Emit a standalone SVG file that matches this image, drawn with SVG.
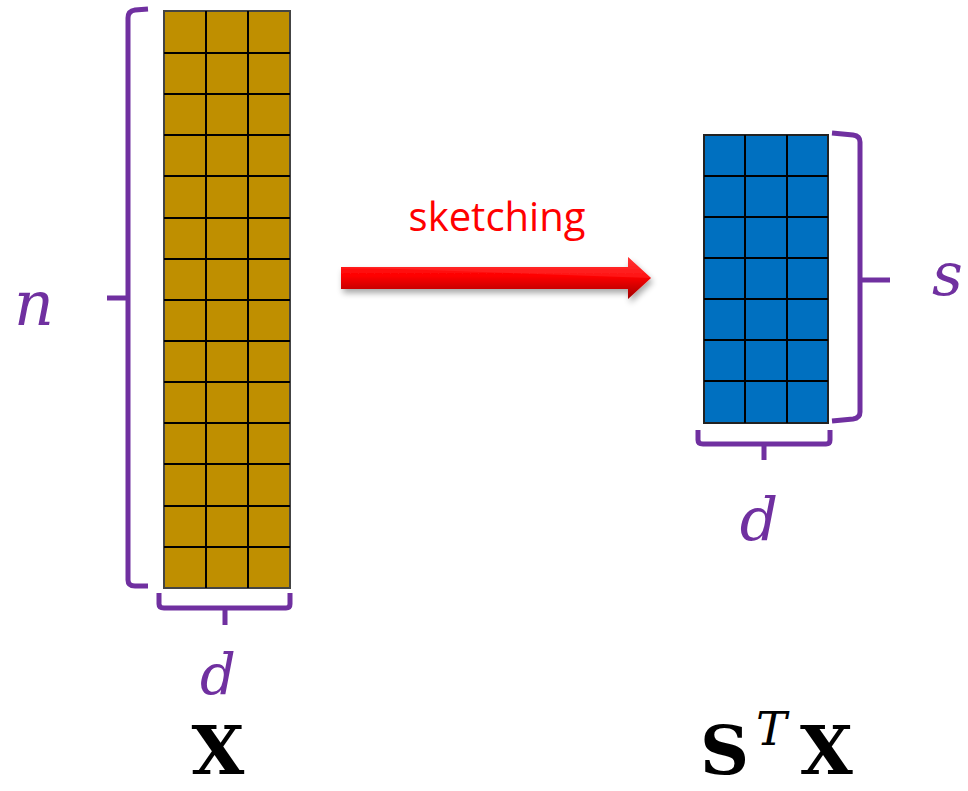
<svg xmlns="http://www.w3.org/2000/svg" width="968" height="791" viewBox="0 0 968 791">
<defs>
<linearGradient id="ag" x1="0" y1="0" x2="0" y2="1">
<stop offset="0" stop-color="#ff3030"/>
<stop offset="0.45" stop-color="#ff0000"/>
<stop offset="1" stop-color="#a00000"/>
</linearGradient>
<filter id="sh" x="-10%" y="-50%" width="120%" height="200%">
<feGaussianBlur in="SourceAlpha" stdDeviation="3"/>
<feOffset dx="2" dy="4"/>
<feComponentTransfer><feFuncA type="linear" slope="0.35"/></feComponentTransfer>
<feMerge><feMergeNode/><feMergeNode in="SourceGraphic"/></feMerge>
</filter>
</defs>
<style>
.grid{stroke:#000;stroke-width:2;fill:none}
.br{stroke:#7030a0;stroke-width:5;fill:none;stroke-linejoin:round;stroke-linecap:butt}
.var{font-family:"DejaVu Serif","Liberation Serif",serif;font-style:italic;fill:#7030a0}
.mat{font-family:"DejaVu Serif","Liberation Serif",serif;font-weight:bold;fill:#000}
</style>
<g id="matrix-X">
<rect x="164" y="11" width="126" height="577" fill="#bf8f00" stroke="#444" stroke-width="2"/>
<path class="grid" d="M206 11V588M248 11V588M164 53H290M164 94H290M164 135H290M164 176H290M164 218H290M164 259H290M164 300H290M164 341H290M164 382H290M164 423H290M164 464H290M164 506H290M164 547H290"/>
</g>
<g id="matrix-STX">
<rect x="704" y="135" width="124" height="288" fill="#0070c0" stroke="#222" stroke-width="2"/>
<path class="grid" d="M745 135V423M787 135V423M704 176H828M704 217H828M704 258H828M704 299H828M704 340H828M704 381H828"/>
</g>
<g id="braces">
<path class="br" d="M148 9L135 10Q128 11 128 18V580Q128 586 135 586L148 586M128 298H107"/>
<path class="br" d="M159 593V604Q159 608 164 608H286Q290 608 290 604V593M225 608V625"/>
<path class="br" d="M832 133L853 135Q860 136 860 142V412Q860 418 853 419L832 421M860 280H890"/>
<path class="br" d="M698 430V440Q698 444 703 444H826Q830 444 830 440V430M764 444V460"/>
</g>
<g id="connectors">
<path d="M341 267H628V257L651 278L628 299V289H341Z" fill="url(#ag)" filter="url(#sh)"/>
<path d="M341 267H628V257L651 278Z" fill="#ff4040" opacity="0.35"/>
</g>
<g id="labels">
<text x="497" y="231" text-anchor="middle" font-family="Open Sans, DejaVu Sans, sans-serif" font-size="40" font-weight="500" fill="#ff0000">sketching</text>
<text class="var" x="14" y="325" font-size="62">n</text>
<text class="var" x="932" y="295" font-size="60">s</text>
<text class="var" x="218" y="694" text-anchor="middle" font-size="56">d</text>
<text class="var" x="759" y="540" text-anchor="middle" font-size="60">d</text>
<text class="mat" x="218" y="774" text-anchor="middle" font-size="68">X</text>
<text class="mat" x="700" y="774" font-size="68">S</text>
<text class="var" x="756" y="745" font-size="46" style="fill:#000">T</text>
<text class="mat" x="800" y="774" font-size="68">X</text>
</g>
</svg>
